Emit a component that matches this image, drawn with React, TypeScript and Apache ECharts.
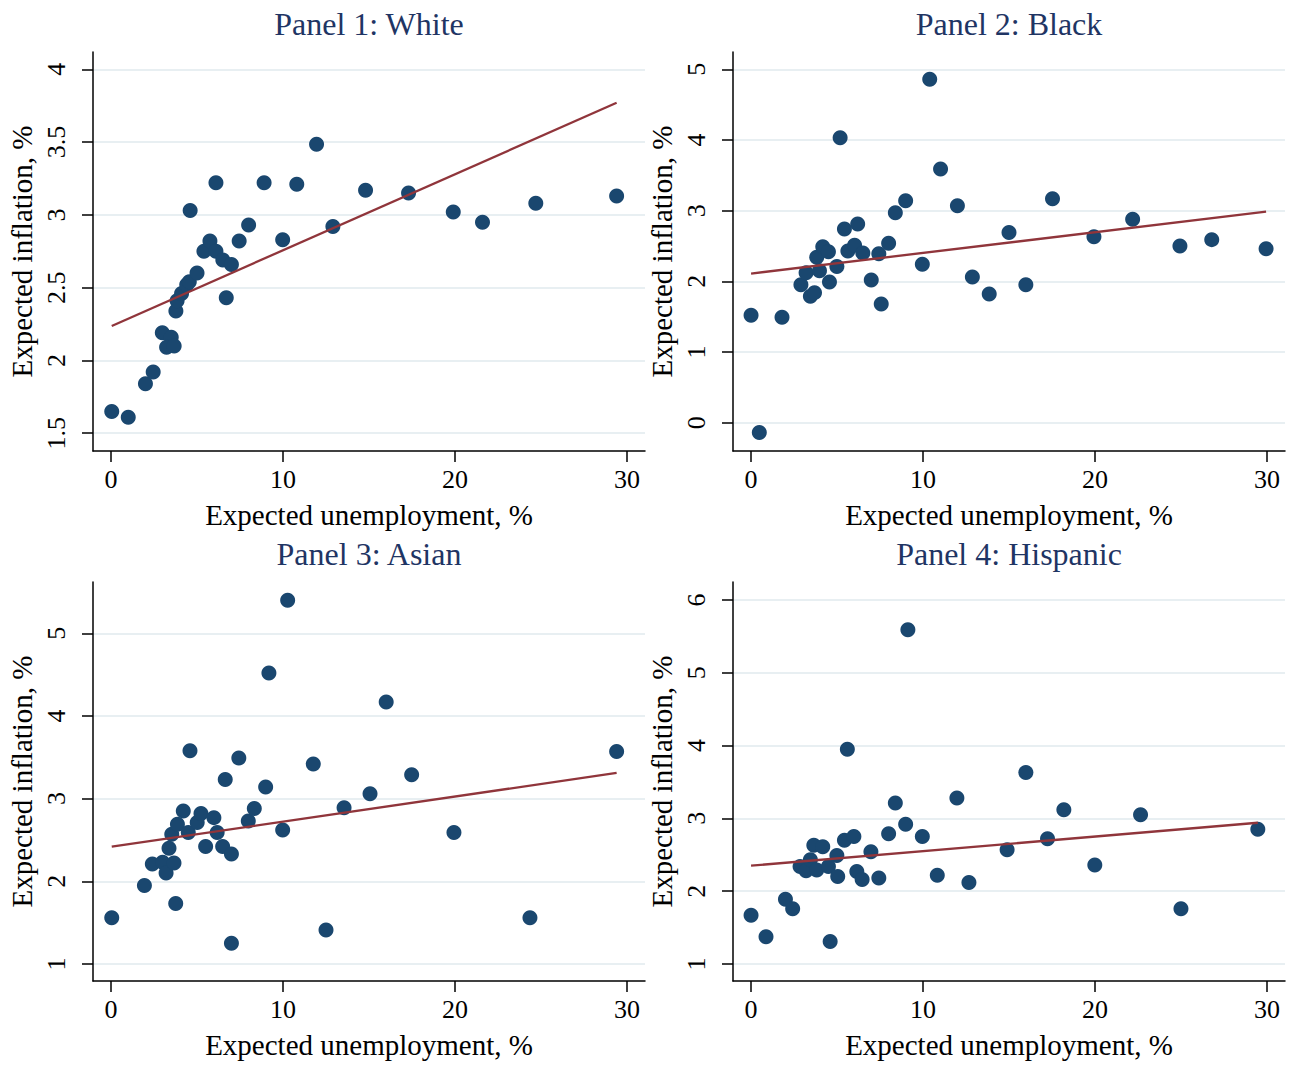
import React, { useEffect, useRef } from "react";
import * as echarts from "echarts";

// ---------- Data ----------
const panelTitles = ["Panel 1: White", "Panel 2: Black", "Panel 3: Asian", "Panel 4: Hispanic"];
const xName = "Expected unemployment, %";
const yName = "Expected inflation, %";
const xTicks = [0, 10, 20, 30];

const whiteX = [0.04, 1.0, 2.0, 2.45, 2.98, 3.5, 3.23, 3.67, 3.77, 3.84, 4.1, 4.4, 4.55, 5.0, 6.7, 4.6, 6.1, 5.4, 5.75, 6.1, 6.5, 7.0, 7.45, 8.0, 8.9, 9.98, 10.8, 11.95, 12.9, 14.8, 17.3, 19.9, 21.6, 24.7, 29.4];
const whiteY = [1.65, 1.61, 1.84, 1.92, 2.19, 2.16, 2.09, 2.1, 2.34, 2.41, 2.46, 2.52, 2.54, 2.6, 2.43, 3.03, 3.22, 2.75, 2.82, 2.75, 2.69, 2.66, 2.82, 2.93, 3.22, 2.83, 3.21, 3.485, 2.92, 3.17, 3.15, 3.02, 2.95, 3.08, 3.13];
const whiteFitX = [0.04, 29.4];
const whiteFitY = [2.237, 3.77];
const whiteYTicks = [1.5, 2, 2.5, 3, 3.5, 4];

const blackX = [0, 0.48, 1.8, 2.9, 3.45, 3.69, 3.2, 3.98, 3.82, 4.17, 4.5, 4.56, 4.99, 5.43, 5.63, 6.02, 6.2, 6.5, 6.99, 7.43, 7.57, 8.0, 8.39, 8.99, 5.18, 9.96, 10.39, 11.02, 12.0, 12.87, 13.85, 15.0, 15.98, 17.53, 19.94, 22.19, 24.94, 26.79, 29.95];
const blackY = [1.52, -0.14, 1.49, 1.95, 1.79, 1.84, 2.12, 2.15, 2.34, 2.49, 2.42, 1.99, 2.21, 2.74, 2.43, 2.51, 2.81, 2.4, 2.02, 2.39, 1.68, 2.54, 2.97, 3.14, 4.03, 2.24, 4.86, 3.59, 3.07, 2.06, 1.82, 2.69, 1.95, 3.17, 2.63, 2.88, 2.5, 2.59, 2.46];
const blackFitX = [0, 29.95];
const blackFitY = [2.11, 2.985];
const blackYTicks = [0, 1, 2, 3, 4, 5];

const asianX = [0.04, 1.94, 3.76, 2.4, 3.0, 3.2, 3.66, 3.37, 3.53, 3.86, 4.2, 4.49, 4.59, 5.01, 5.23, 5.5, 5.98, 6.17, 6.49, 7.0, 7.0, 6.64, 7.43, 7.98, 8.33, 8.99, 9.18, 9.98, 10.27, 11.76, 12.5, 13.55, 15.06, 16.0, 17.48, 19.94, 24.36, 29.4];
const asianY = [1.56, 1.95, 1.73, 2.21, 2.23, 2.1, 2.22, 2.4, 2.57, 2.69, 2.85, 2.59, 3.58, 2.71, 2.82, 2.42, 2.77, 2.59, 2.42, 2.33, 1.25, 3.23, 3.49, 2.73, 2.88, 3.14, 4.52, 2.62, 5.4, 3.42, 1.41, 2.89, 3.06, 4.17, 3.29, 2.59, 1.56, 3.57];
const asianFitX = [0.04, 29.4];
const asianFitY = [2.42, 3.31];
const asianYTicks = [1, 2, 3, 4, 5];

const hispX = [0, 0.87, 2.0, 2.42, 4.6, 2.85, 3.2, 3.45, 3.82, 3.65, 4.17, 4.5, 4.99, 5.04, 5.43, 5.98, 5.6, 6.15, 6.46, 6.97, 7.43, 8.0, 8.39, 8.99, 9.12, 9.96, 10.83, 11.97, 12.67, 14.89, 15.98, 17.24, 18.19, 19.99, 22.65, 25.0, 29.47];
const hispY = [1.67, 1.375, 1.89, 1.76, 1.31, 2.34, 2.28, 2.43, 2.29, 2.63, 2.61, 2.34, 2.49, 2.2, 2.7, 2.75, 3.95, 2.27, 2.16, 2.54, 2.18, 2.79, 3.21, 2.92, 5.59, 2.75, 2.22, 3.28, 2.12, 2.57, 3.63, 2.72, 3.12, 2.36, 3.05, 1.76, 2.85];
const hispFitX = [0, 29.47];
const hispFitY = [2.35, 2.94];
const hispYTicks = [1, 2, 3, 4, 5, 6];

const panels = [
  { xs: whiteX, ys: whiteY, fx: whiteFitX, fy: whiteFitY, yt: whiteYTicks, ymin: 1.378, ymax: 4.119 },
  { xs: blackX, ys: blackY, fx: blackFitX, fy: blackFitY, yt: blackYTicks, ymin: -0.401, ymax: 5.245 },
  { xs: asianX, ys: asianY, fx: asianFitX, fy: asianFitY, yt: asianYTicks, ymin: 0.794, ymax: 5.62 },
  { xs: hispX, ys: hispY, fx: hispFitX, fy: hispFitY, yt: hispYTicks, ymin: 0.766, ymax: 6.247 },
];

// ---------- Layout ----------
const gridRects = [
  { left: 93, top: 52 },
  { left: 733, top: 52 },
  { left: 93, top: 582 },
  { left: 733, top: 582 },
];
const GW = 552;
const GH = 399;
const FONT = "'Liberation Serif', 'Times New Roman', serif";
const NAVY = "#1a476f";
const MAROON = "#90353b";
const TITLE_COLOR = "#1f3564";

export default function App() {
  const ref = useRef<HTMLDivElement>(null);
  useEffect(() => {
    if (!ref.current) return;
    const chart = echarts.init(ref.current, undefined, { renderer: "svg" });
    const grid = gridRects.map((g) => ({ left: g.left, top: g.top, width: GW, height: GH, containLabel: false }));
    const xAxis = panels.map((p, i) => ({
      type: "value",
      gridIndex: i,
      min: -1.05,
      max: 31.05,
      name: xName,
      nameLocation: "middle",
      nameGap: 49,
      nameTextStyle: { fontFamily: FONT, fontSize: 29, color: "#000" },
      axisLine: { show: true, onZero: false, lineStyle: { color: "#000", width: 1.5 } },
      axisTick: { show: true, length: 11, customValues: xTicks, lineStyle: { color: "#000", width: 1.5 } },
      axisLabel: { customValues: xTicks, fontFamily: FONT, fontSize: 26, color: "#000", margin: 15 },
      splitLine: { show: false },
    }));
    const yAxis = panels.map((p, i) => ({
      type: "value",
      gridIndex: i,
      min: p.ymin,
      max: p.ymax,
      name: yName,
      nameLocation: "middle",
      nameGap: 57,
      nameTextStyle: { fontFamily: FONT, fontSize: 29, color: "#000" },
      axisLine: { show: true, onZero: false, lineStyle: { color: "#000", width: 1.5 } },
      axisTick: { show: true, length: 11, customValues: p.yt, lineStyle: { color: "#000", width: 1.5 } },
      axisLabel: { customValues: p.yt, rotate: 90, fontFamily: FONT, fontSize: 26, color: "#000", margin: 24 },
      splitLine: { show: true, lineStyle: { color: "#e8eff2", width: 2 } },
    }));
    const series: any[] = [];
    panels.forEach((p, i) => {
      series.push({
        type: "scatter",
        xAxisIndex: i,
        yAxisIndex: i,
        symbol: "circle",
        symbolSize: 15,
        itemStyle: { color: NAVY, opacity: 1 },
        data: p.xs.map((x, k) => [x, p.ys[k]]),
        z: 2,
      });
      series.push({
        type: "line",
        xAxisIndex: i,
        yAxisIndex: i,
        showSymbol: false,
        symbol: "none",
        lineStyle: { color: MAROON, width: 2.3 },
        data: p.fx.map((x, k) => [x, p.fy[k]]),
        z: 3,
      });
    });
    const graphic = panelTitles.map((t, i) => ({
      type: "text",
      x: gridRects[i].left + GW / 2,
      y: gridRects[i].top - 28,
      style: {
        text: t,
        textAlign: "center",
        textVerticalAlign: "middle",
        fontFamily: FONT,
        fontSize: 32,
        fill: TITLE_COLOR,
      },
    }));
    chart.setOption({
      animation: false,
      backgroundColor: "#fff",
      grid,
      xAxis,
      yAxis,
      series,
      graphic,
    });
    return () => chart.dispose();
  }, []);
  return (
    <div
      ref={ref}
      style={{ position: "fixed", left: 0, top: 0, width: 1294, height: 1065, background: "#fff" }}
    />
  );
}
